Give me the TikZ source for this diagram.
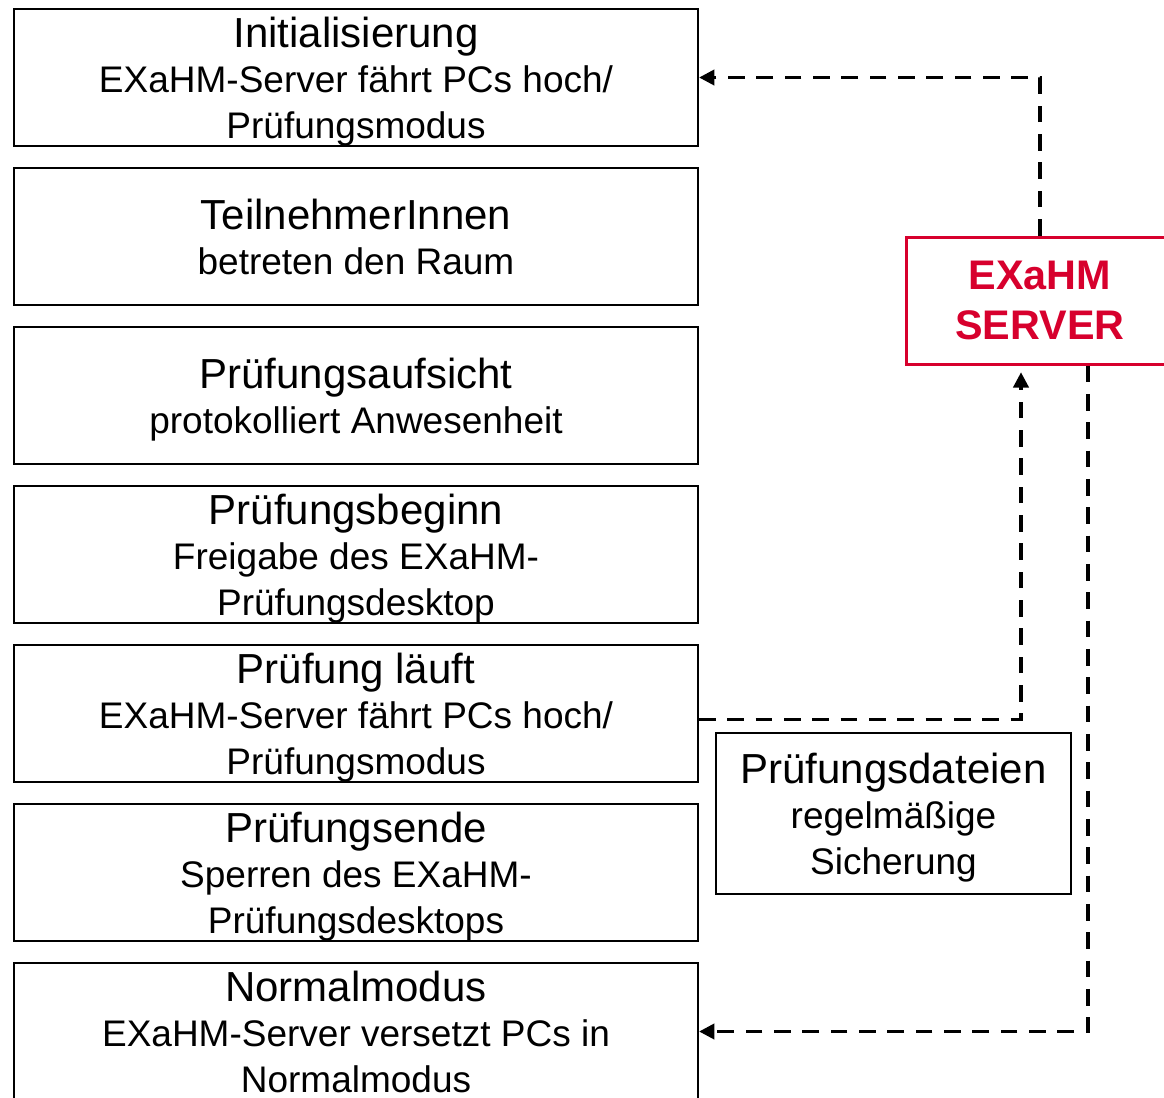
\documentclass[tikz,border=0pt]{standalone}
\usepackage{fontspec}
\setmainfont{Liberation Sans}
\usepackage{xcolor}
\usetikzlibrary{arrows.meta, positioning, calc}

\definecolor{exahmred}{RGB}{215,0,45}
\newcommand{\steptitle}[1]{{\fontsize{31.5}{34}\selectfont #1}}

\begin{document}
\begin{tikzpicture}[x=0.75pt, y=-0.75pt, node distance=15pt,
    block/.style={rectangle, draw, line width=1.5pt, minimum width=513pt, minimum height=102.75pt, inner sep=2pt, text depth=0pt, text centered, align=center, font=\fontsize{27.75}{34}\selectfont},
    server/.style={rectangle, draw=exahmred, text=exahmred, line width=2.25pt, minimum width=201pt, minimum height=95.25pt, inner sep=2pt, align=center, font=\fontsize{31}{38}\selectfont\bfseries},
    backup/.style={rectangle, draw, line width=1pt, minimum width=266.25pt, minimum height=120.75pt, inner sep=2pt, text depth=0pt, align=center, font=\fontsize{27.75}{34}\selectfont},
    arrow/.style={line width=2.8pt, dash pattern=on 12.5pt off 8.75pt, -{Triangle[length=11.5pt, width=11.25pt]}}]

    \useasboundingbox (0,0) rectangle (1164,1097);

    \node (init) [block] at (356,77.5) {\steptitle{Initialisierung}\\EXaHM-Server fährt PCs hoch/\\Prüfungsmodus};
    \node (enter) [block, below=of init] {\steptitle{TeilnehmerInnen}\\betreten den Raum};
    \node (check) [block, below=of enter] {\steptitle{Prüfungsaufsicht}\\protokolliert Anwesenheit};
    \node (start) [block, below=of check] {\steptitle{Prüfungsbeginn}\\Freigabe des EXaHM-\\Prüfungsdesktop};
    \node (run) [block, below=of start] {\steptitle{Prüfung läuft}\\EXaHM-Server fährt PCs hoch/\\Prüfungsmodus};
    \node (stop) [block, below=of run] {\steptitle{Prüfungsende}\\Sperren des EXaHM-\\Prüfungsdesktops};
    \node (normal) [block, below=of stop] {\steptitle{Normalmodus}\\EXaHM-Server versetzt PCs in\\Normalmodus};

    \node (server) [server] at (1040,300.5) {EXaHM\\SERVER};
    \node (files) [backup] at (893.5,813.5) {\steptitle{Prüfungsdateien}\\regelmäßige\\Sicherung};

    \draw [arrow] (server.north) |- (init.east);
    \draw [arrow, shorten >=5pt] ($(run.east)+(0,6)$) -| ($(server.south)+(-19,0)$);
    \draw [arrow] ($(server.south)+(48,0)$) |- (normal.east);
\end{tikzpicture}
\end{document}
